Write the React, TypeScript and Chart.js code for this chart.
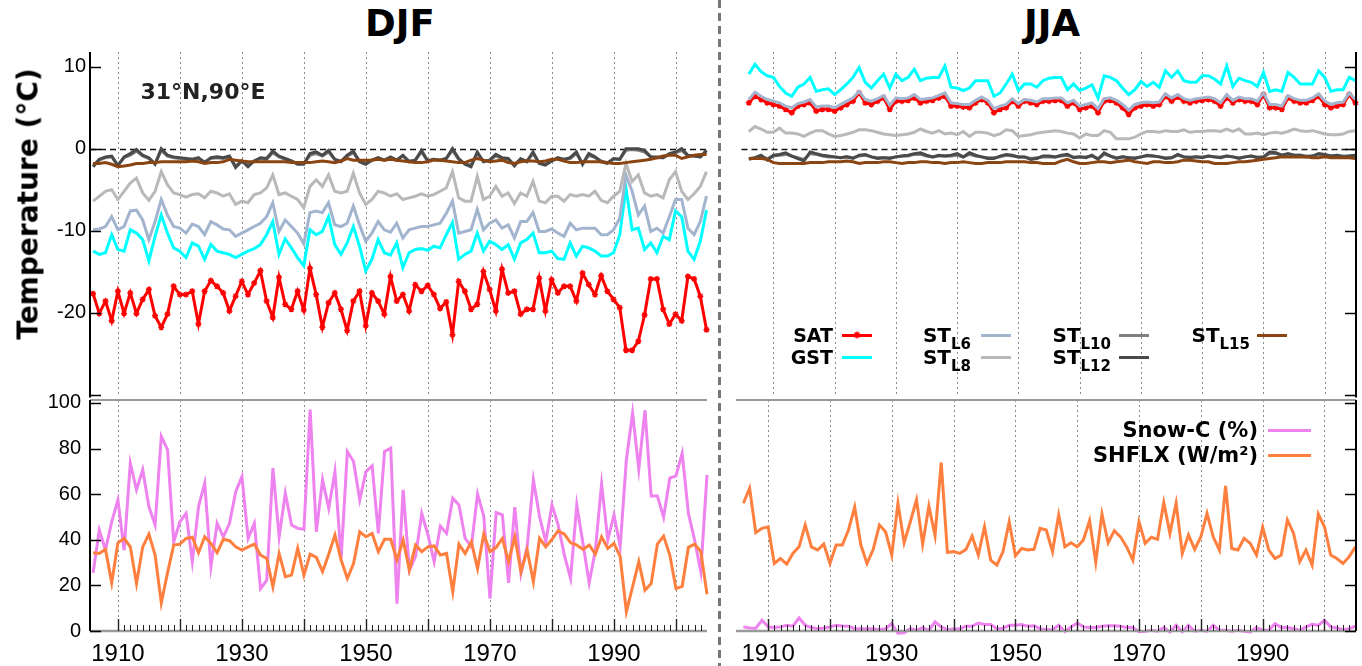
import React, { useEffect, useRef } from 'react';
import { Chart, registerables } from 'chart.js';

Chart.register(...registerables);

// ---------------- data ----------------
const firstYear = 1906;
const years: number[] = Array.from({ length: 100 }, (_, i) => firstYear + i);
const decadeTicks = [1910, 1920, 1930, 1940, 1950, 1960, 1970, 1980, 1990, 2000];
const xTickLabels = [1910, 1930, 1950, 1970, 1990];
const tempTicks = [-30, -20, -10, 0, 10];
const tempTickLabels = [-20, -10, 0, 10];
const pctTicks = [0, 20, 40, 60, 80, 100];
const pctTickLabels = [0, 20, 40, 60, 80, 100];

// DJF (winter)
const djfSAT = [-17.7, -20.1, -18.6, -21.0, -17.4, -20.1, -17.6, -20.1, -18.4, -17.2, -20.4, -21.8, -20.2, -16.8, -17.8, -17.8, -17.4, -21.4, -17.4, -16.1, -16.8, -17.6, -19.8, -18.0, -16.2, -17.8, -16.4, -14.9, -18.6, -20.6, -15.7, -19.0, -19.6, -17.4, -19.7, -14.6, -17.8, -21.8, -18.8, -17.6, -19.6, -22.2, -18.6, -17.4, -21.6, -17.6, -18.6, -20.2, -15.6, -18.6, -17.8, -19.8, -16.6, -17.4, -16.7, -17.8, -19.5, -18.7, -22.7, -16.2, -17.4, -19.6, -19.0, -15.0, -17.2, -19.8, -14.7, -17.6, -17.4, -20.2, -19.6, -19.6, -15.8, -19.8, -16.0, -17.6, -16.8, -16.8, -18.6, -15.2, -16.6, -17.8, -15.5, -17.4, -18.4, -19.4, -24.6, -24.6, -23.5, -20.3, -15.9, -15.9, -19.6, -21.4, -20.2, -21.0, -15.6, -15.9, -18.0, -22.1];
const djfGST = [-12.5, -12.9, -12.7, -10.5, -12.3, -12.5, -9.9, -10.3, -11.1, -13.7, -10.7, -8.1, -10.3, -12.1, -12.5, -13.3, -11.5, -11.9, -13.5, -11.7, -12.5, -12.7, -12.9, -13.3, -12.9, -12.5, -12.2, -11.7, -10.5, -8.9, -12.9, -11.0, -12.1, -13.3, -14.3, -9.9, -10.5, -10.1, -8.3, -11.7, -12.9, -11.5, -9.5, -11.9, -14.9, -13.5, -11.1, -12.7, -13.0, -11.5, -14.5, -12.7, -12.3, -12.2, -12.4, -11.9, -12.1, -10.5, -9.0, -13.5, -12.9, -12.5, -10.3, -12.5, -11.3, -11.7, -12.3, -11.7, -13.5, -11.5, -11.1, -10.3, -12.7, -12.7, -12.5, -13.4, -13.5, -11.5, -13.1, -11.9, -12.1, -12.5, -13.1, -13.1, -12.7, -10.5, -4.8, -9.9, -9.7, -12.3, -11.5, -12.7, -10.7, -11.1, -7.6, -8.3, -12.5, -13.5, -11.3, -7.5];
const djfL6 = [-9.9, -9.8, -9.5, -8.3, -9.9, -9.5, -7.6, -7.5, -8.7, -11.1, -8.9, -6.2, -8.1, -9.5, -9.7, -10.3, -9.2, -9.5, -10.5, -8.9, -9.3, -9.8, -9.9, -10.7, -10.3, -9.9, -9.5, -9.1, -8.3, -6.6, -10.1, -8.7, -9.5, -10.3, -11.6, -7.8, -7.6, -7.8, -6.6, -9.3, -9.5, -9.1, -7.0, -9.3, -11.3, -10.3, -8.9, -9.9, -10.2, -9.1, -10.9, -9.9, -9.7, -9.5, -9.5, -9.3, -9.1, -7.9, -6.4, -10.3, -10.1, -9.9, -7.4, -9.9, -9.1, -8.7, -9.7, -9.3, -10.9, -8.9, -8.9, -7.8, -10.1, -10.1, -9.8, -10.3, -10.7, -9.1, -9.9, -9.7, -9.7, -9.7, -10.5, -10.5, -9.9, -8.5, -3.2, -5.2, -8.1, -7.0, -10.1, -9.7, -10.3, -8.3, -6.2, -6.2, -9.7, -10.5, -8.9, -5.8];
const djfL8 = [-6.4, -5.8, -5.2, -5.0, -6.2, -5.2, -4.2, -3.6, -5.4, -6.3, -5.2, -2.8, -4.4, -5.4, -5.6, -5.9, -5.6, -5.5, -6.0, -5.2, -5.4, -5.8, -5.5, -6.8, -6.4, -6.6, -5.6, -5.4, -4.8, -3.2, -5.6, -5.4, -5.8, -6.2, -7.2, -4.6, -3.8, -4.6, -3.2, -5.2, -5.4, -5.2, -3.0, -5.4, -6.8, -6.2, -5.2, -5.4, -5.8, -5.5, -6.2, -6.0, -5.8, -5.5, -5.8, -5.6, -5.2, -4.8, -2.8, -6.0, -6.4, -6.4, -3.4, -6.2, -5.8, -4.6, -5.8, -5.4, -6.7, -5.4, -5.8, -4.0, -6.4, -6.6, -5.8, -5.8, -6.4, -5.6, -5.8, -5.6, -5.8, -5.2, -6.3, -6.6, -5.8, -5.2, -1.8, -4.0, -3.2, -5.4, -5.8, -5.6, -6.0, -3.8, -2.8, -5.2, -6.2, -5.5, -4.6, -2.8];
const djfL10 = [-2.0, -1.4, -1.1, -1.0, -2.0, -1.1, -0.8, -0.3, -0.9, -1.2, -1.8, -0.2, -0.9, -1.1, -1.2, -1.3, -1.3, -1.2, -1.6, -1.2, -1.1, -1.2, -1.0, -2.1, -1.5, -2.0, -1.5, -1.2, -1.3, -0.5, -1.0, -1.3, -1.5, -1.8, -1.8, -0.8, -0.6, -0.9, -0.4, -1.3, -1.5, -0.9, -0.5, -1.5, -1.8, -1.4, -1.2, -1.4, -1.1, -1.4, -0.9, -1.5, -1.4, -0.4, -1.5, -1.3, -1.4, -1.2, -0.2, -1.3, -1.8, -2.0, -0.6, -1.5, -1.4, -0.9, -1.2, -1.3, -1.9, -1.3, -1.5, -0.6, -1.7, -1.9, -1.5, -1.2, -1.3, -1.2, -0.6, -1.8, -0.8, -1.1, -1.5, -1.7, -1.3, -1.3, -0.2, -0.1, -0.2, -0.4, -1.0, -1.1, -1.1, -0.7, -0.5, -0.2, -0.9, -0.9, -1.0, -0.4];
const djfL12 = [-2.2, -1.3, -1.0, -0.9, -2.1, -1.0, -0.6, -0.1, -0.8, -1.1, -1.9, 0.0, -0.8, -1.0, -1.1, -1.2, -1.3, -1.1, -1.7, -1.1, -1.0, -1.1, -0.9, -2.3, -1.5, -2.2, -1.5, -1.1, -1.2, -0.3, -0.9, -1.2, -1.5, -1.9, -1.9, -0.6, -0.4, -0.8, -0.2, -1.3, -1.6, -0.8, -0.3, -1.6, -1.9, -1.4, -1.1, -1.4, -1.0, -1.4, -0.8, -1.6, -1.4, -0.2, -1.5, -1.3, -1.4, -1.2, 0.0, -1.2, -1.9, -2.2, -0.4, -1.6, -1.4, -0.7, -1.1, -1.2, -2.1, -1.2, -1.6, -0.4, -1.8, -2.0, -1.5, -1.1, -1.3, -1.1, -0.4, -1.9, -0.6, -1.0, -1.6, -1.8, -1.2, -1.3, 0.0, 0.0, 0.0, -0.2, -1.0, -1.0, -1.1, -0.6, -0.4, 0.0, -0.8, -0.9, -1.0, -0.2];
const djfL15 = [-1.8, -1.8, -1.7, -1.9, -2.2, -2.1, -2.0, -1.8, -1.8, -1.7, -1.7, -1.6, -1.6, -1.6, -1.6, -1.6, -1.5, -1.6, -1.8, -1.7, -1.7, -1.6, -1.3, -1.4, -1.5, -1.6, -1.6, -1.6, -1.6, -1.6, -1.6, -1.6, -1.7, -1.7, -1.7, -1.7, -1.6, -1.5, -1.6, -1.7, -1.5, -1.2, -1.4, -1.4, -1.4, -1.4, -1.3, -1.4, -1.3, -1.4, -1.5, -1.6, -1.7, -1.7, -1.6, -1.4, -1.4, -1.5, -1.6, -1.7, -1.7, -1.4, -1.2, -1.4, -1.6, -1.5, -1.4, -1.7, -1.8, -1.6, -1.5, -1.5, -1.6, -1.5, -1.3, -1.3, -1.5, -1.7, -1.7, -1.6, -1.6, -1.6, -1.6, -1.7, -1.8, -1.8, -1.7, -1.6, -1.5, -1.4, -1.3, -1.1, -0.9, -0.8, -0.8, -1.2, -1.0, -0.8, -0.7, -0.7];
const djfSnow = [25.5, 44.3, 35.5, 47.9, 57.5, 35.5, 73.6, 61.9, 70.7, 54.5, 46.5, 85.3, 79.5, 39.1, 47.9, 51.6, 30.4, 54.5, 64.8, 28.2, 47.2, 41.3, 47.2, 61.1, 67.7, 40.6, 47.2, 18.6, 22.3, 71.4, 41.3, 60.4, 46.5, 45.0, 44.6, 97.1, 43.5, 66.3, 53.8, 69.9, 31.8, 78.7, 74.3, 57.5, 69.9, 72.4, 42.8, 78.7, 80.2, 12.0, 61.9, 26.7, 32.6, 51.6, 42.1, 30.4, 46.0, 42.8, 58.2, 55.3, 40.6, 37.0, 60.1, 50.4, 14.2, 51.9, 50.9, 21.1, 54.3, 25.2, 37.0, 66.3, 50.1, 39.1, 55.3, 46.5, 33.3, 23.0, 55.3, 38.4, 21.1, 35.5, 64.5, 39.9, 50.9, 37.0, 75.1, 95.6, 71.0, 96.8, 59.2, 59.2, 49.9, 67.0, 68.0, 78.0, 51.6, 39.9, 26.0, 68.5];
const djfSHFLX = [34.3, 34.0, 35.8, 21.1, 38.7, 40.6, 36.9, 20.8, 36.9, 42.5, 33.3, 12.3, 25.5, 37.7, 38.1, 40.6, 41.1, 34.3, 41.3, 38.4, 34.3, 40.2, 39.6, 36.9, 35.5, 36.9, 38.1, 33.3, 31.8, 19.4, 34.0, 23.8, 24.5, 36.2, 24.5, 33.7, 32.3, 26.0, 33.7, 42.1, 31.1, 23.0, 29.6, 43.5, 41.3, 42.8, 34.8, 40.2, 40.2, 31.1, 39.9, 26.7, 37.7, 34.8, 36.9, 37.3, 33.3, 34.0, 17.2, 38.1, 34.0, 39.1, 27.4, 42.5, 34.8, 36.7, 40.6, 30.4, 41.3, 26.0, 35.5, 21.6, 40.6, 36.9, 40.2, 44.0, 42.5, 38.7, 37.7, 35.8, 37.7, 33.7, 41.3, 36.2, 38.4, 32.6, 8.4, 19.4, 30.4, 17.9, 20.8, 38.1, 41.6, 33.3, 18.6, 19.6, 36.7, 38.1, 34.8, 16.1];

// JJA (summer)
const jjaSAT = [5.6, 6.4, 6.0, 5.6, 5.4, 5.2, 4.8, 4.4, 5.2, 5.4, 5.6, 4.6, 4.8, 4.8, 4.6, 5.0, 5.4, 5.8, 6.8, 5.6, 5.4, 5.8, 6.2, 4.8, 5.8, 5.8, 5.9, 6.2, 5.6, 5.8, 5.9, 6.2, 6.4, 5.2, 5.2, 5.1, 5.0, 5.6, 6.0, 5.6, 4.4, 4.8, 5.0, 5.8, 5.2, 5.8, 5.6, 5.4, 5.8, 5.8, 5.9, 5.9, 5.2, 5.6, 4.8, 5.0, 5.2, 4.4, 5.8, 5.9, 5.6, 5.0, 4.2, 5.0, 5.2, 5.4, 5.2, 5.4, 6.4, 5.8, 6.3, 5.8, 5.6, 5.8, 5.9, 6.0, 5.8, 5.2, 6.2, 5.6, 6.0, 5.8, 5.8, 5.4, 6.6, 5.0, 5.0, 4.8, 6.2, 5.8, 5.6, 5.6, 5.9, 6.4, 5.4, 5.0, 5.2, 5.4, 6.6, 5.6];
const jjaGST = [9.1, 10.3, 9.4, 8.9, 8.7, 7.6, 6.8, 6.4, 7.5, 7.9, 8.7, 7.0, 7.2, 7.3, 6.6, 7.2, 7.9, 8.7, 9.9, 8.1, 7.4, 8.3, 9.1, 7.4, 9.1, 8.3, 8.7, 9.7, 8.3, 8.6, 8.7, 8.7, 10.1, 7.5, 7.4, 7.1, 7.4, 8.3, 8.3, 8.3, 6.4, 6.8, 7.9, 9.1, 7.1, 7.9, 7.9, 7.5, 8.3, 8.6, 8.7, 8.7, 7.2, 7.9, 7.1, 7.4, 7.8, 6.2, 8.9, 8.7, 8.3, 7.4, 6.6, 7.2, 8.2, 7.6, 8.1, 7.5, 9.5, 8.7, 9.5, 8.3, 8.1, 8.1, 8.9, 8.9, 8.5, 7.9, 10.1, 7.6, 8.6, 8.3, 8.1, 7.6, 9.3, 7.0, 7.2, 7.0, 9.3, 8.7, 7.9, 7.9, 7.9, 9.5, 8.7, 7.0, 7.2, 7.2, 8.7, 8.3];
const jjaL6 = [6.0, 6.9, 6.4, 6.0, 5.8, 5.6, 5.2, 5.0, 5.5, 5.7, 6.0, 5.1, 5.2, 5.2, 5.0, 5.4, 5.8, 6.2, 7.0, 6.0, 5.8, 6.1, 6.5, 5.3, 6.2, 6.1, 6.2, 6.6, 6.0, 6.1, 6.2, 6.5, 6.8, 5.6, 5.5, 5.4, 5.4, 5.9, 6.3, 5.9, 4.9, 5.2, 5.4, 6.1, 5.5, 6.0, 5.9, 5.7, 6.1, 6.1, 6.2, 6.2, 5.6, 5.9, 5.2, 5.4, 5.6, 4.9, 6.1, 6.2, 5.9, 5.4, 4.7, 5.4, 5.6, 5.7, 5.6, 5.7, 6.7, 6.2, 6.6, 6.1, 5.9, 6.1, 6.2, 6.3, 6.1, 5.6, 6.6, 5.9, 6.3, 6.1, 6.1, 5.8, 6.8, 5.4, 5.4, 5.2, 6.5, 6.1, 5.9, 5.9, 6.2, 6.7, 5.8, 5.4, 5.6, 5.7, 6.8, 6.0];
const jjaL8 = [2.1, 2.7, 2.4, 2.0, 2.0, 2.5, 1.9, 1.9, 1.8, 1.5, 1.9, 2.2, 2.2, 1.8, 1.5, 1.6, 1.8, 2.0, 2.3, 2.3, 2.2, 2.0, 1.8, 1.7, 1.6, 1.7, 1.8, 2.0, 2.4, 2.1, 1.9, 2.2, 1.8, 1.9, 1.7, 2.1, 1.5, 2.0, 2.0, 1.9, 1.6, 1.8, 2.3, 2.2, 1.5, 1.6, 1.7, 1.9, 2.0, 2.1, 2.2, 2.1, 1.9, 1.8, 1.3, 1.8, 1.6, 1.6, 2.2, 2.0, 1.2, 1.2, 1.2, 1.4, 1.8, 2.1, 2.1, 2.0, 2.2, 2.1, 2.1, 2.3, 2.0, 2.1, 2.1, 2.2, 2.2, 2.1, 2.4, 2.1, 2.4, 1.8, 1.8, 1.9, 1.7, 1.9, 2.0, 1.9, 2.1, 2.4, 2.2, 2.1, 2.2, 2.0, 1.8, 1.7, 1.7, 1.8, 2.1, 2.2];
const jjaL10 = [-1.2, -1.1, -0.9, -1.2, -0.9, -0.8, -0.7, -0.9, -1.1, -1.3, -0.6, -0.7, -0.9, -1.0, -1.0, -1.1, -1.0, -1.1, -0.9, -0.8, -1.0, -1.1, -1.1, -1.1, -1.0, -0.9, -0.9, -0.7, -0.7, -0.9, -1.0, -0.9, -0.9, -0.9, -0.8, -1.0, -0.7, -0.9, -1.0, -1.1, -1.1, -1.0, -0.8, -0.9, -1.0, -1.0, -1.2, -1.1, -1.0, -1.0, -1.0, -0.9, -0.8, -1.0, -1.0, -1.0, -0.9, -1.2, -0.7, -0.9, -1.1, -1.0, -1.1, -1.1, -1.0, -0.9, -0.9, -1.0, -1.1, -1.1, -0.8, -1.0, -1.0, -1.0, -1.0, -0.9, -1.0, -1.0, -0.9, -1.0, -1.1, -1.0, -0.9, -1.0, -1.0, -0.6, -0.6, -0.8, -0.7, -0.8, -0.8, -0.9, -0.9, -0.7, -0.8, -0.9, -0.8, -0.9, -0.9, -0.8];
const jjaL12 = [-1.3, -1.1, -0.8, -1.4, -0.8, -0.7, -0.5, -0.9, -1.2, -1.5, -0.4, -0.6, -0.8, -0.9, -1.0, -1.1, -1.0, -1.2, -0.8, -0.7, -1.0, -1.2, -1.1, -1.2, -1.0, -0.9, -0.8, -0.6, -0.5, -0.8, -1.0, -0.8, -0.9, -0.8, -0.6, -1.0, -0.5, -0.8, -1.0, -1.2, -1.2, -0.9, -0.7, -0.8, -1.0, -1.0, -1.3, -1.2, -0.9, -0.9, -1.0, -0.8, -0.7, -1.1, -1.0, -1.1, -0.8, -1.3, -0.5, -0.9, -1.2, -1.0, -1.1, -1.2, -1.0, -0.8, -0.9, -1.0, -1.2, -1.1, -0.7, -1.0, -1.1, -1.0, -1.1, -0.9, -1.0, -1.1, -0.9, -1.0, -1.2, -1.0, -0.9, -1.1, -1.0, -0.4, -0.5, -0.8, -0.6, -0.8, -0.8, -1.0, -0.9, -0.6, -0.7, -0.9, -0.8, -1.0, -0.9, -0.8];
const jjaL15 = [-1.2, -1.2, -1.2, -1.3, -1.7, -1.8, -1.8, -1.8, -1.8, -1.8, -1.7, -1.7, -1.7, -1.6, -1.6, -1.6, -1.5, -1.6, -1.8, -1.7, -1.7, -1.7, -1.6, -1.6, -1.7, -1.8, -1.7, -1.7, -1.6, -1.6, -1.7, -1.7, -1.8, -1.7, -1.7, -1.6, -1.7, -1.8, -1.8, -1.7, -1.7, -1.7, -1.6, -1.6, -1.6, -1.6, -1.7, -1.7, -1.8, -1.8, -1.8, -1.5, -1.3, -1.6, -1.8, -1.8, -1.7, -1.6, -1.6, -1.7, -1.6, -1.5, -1.4, -1.6, -1.7, -1.8, -1.6, -1.6, -1.7, -1.7, -1.6, -1.4, -1.4, -1.5, -1.6, -1.6, -1.8, -1.8, -1.8, -1.7, -1.6, -1.6, -1.5, -1.4, -1.3, -1.2, -1.1, -1.0, -1.0, -1.0, -1.0, -1.0, -1.1, -1.1, -1.0, -1.1, -1.1, -1.1, -1.1, -1.2];
const jjaSnow = [1.8, 1.3, 1.2, 4.7, 1.8, 1.5, 1.8, 2.5, 2.1, 5.7, 2.5, 1.5, 1.0, 1.3, 1.8, 2.5, 2.2, 2.1, 1.0, 1.0, 1.0, 1.0, 0.6, 1.0, 3.2, -1.0, -0.8, 1.0, 0.3, 1.5, 0.3, 4.0, 1.8, 0.6, 0.9, 1.0, 2.1, 2.1, 3.5, 2.9, 2.9, 1.0, 1.2, 2.5, 2.5, 2.8, 2.1, 2.3, 1.0, 0.6, 0.6, 2.5, -0.2, 1.8, 3.5, 1.8, 1.5, 1.5, 2.1, 2.3, 2.3, 2.1, 1.5, 1.5, -0.3, -0.1, 0.3, -0.1, 1.5, -0.4, 2.5, -0.3, 2.5, -0.1, 0.3, -0.1, 2.5, 0.3, 0.3, -0.1, 0.3, -0.1, -0.4, 1.5, 0.3, 0.3, 3.2, 1.5, 1.5, 1.0, 0.3, 1.8, 2.9, 2.5, 4.7, 1.8, 1.3, 0.6, 1.0, 2.1];
const jjaSHFLX = [56.0, 62.6, 43.1, 45.0, 45.7, 29.6, 31.8, 29.3, 34.0, 36.9, 46.5, 36.9, 35.5, 38.1, 29.6, 37.7, 37.7, 44.3, 54.3, 37.7, 29.6, 35.8, 46.5, 43.5, 33.3, 56.0, 38.7, 47.9, 57.5, 38.1, 54.8, 41.8, 73.9, 34.5, 34.8, 34.0, 35.8, 41.6, 33.3, 45.7, 31.1, 28.9, 34.8, 47.9, 33.0, 36.2, 35.5, 35.8, 45.0, 44.3, 34.8, 50.9, 36.9, 38.7, 36.9, 39.9, 48.4, 30.1, 51.3, 38.7, 44.0, 41.3, 36.9, 31.1, 47.9, 38.4, 41.1, 40.2, 56.3, 42.8, 56.0, 34.0, 42.1, 35.8, 41.3, 51.6, 41.3, 35.5, 63.6, 36.2, 35.5, 40.6, 38.4, 33.3, 45.5, 35.5, 31.8, 33.3, 48.7, 42.8, 30.4, 35.5, 28.9, 51.3, 45.7, 33.3, 31.8, 29.6, 32.6, 36.9];

// ---------------- styles ----------------
const C = {
  SAT: '#ff0000', GST: '#00ffff', L6: '#a2b4ce', L8: '#b9b9b9', L10: '#808080', L12: '#4a4a4a', L15: '#8b4513',
  snow: '#ee82ee', shflx: '#ff7f3f',
};
const tickFont = '"Liberation Sans", Arial, Helvetica, sans-serif';
const boldFont = '"DejaVu Sans", Verdana, sans-serif';

type Box = { x: number; y: number; w: number; h: number };

function series(vals: number[], color: string, extra: any = {}) {
  return {
    data: years.map((x, i) => ({ x, y: vals[i] })),
    borderColor: color,
    backgroundColor: color,
    borderWidth: 3,
    pointRadius: 0,
    tension: 0,
    clip: 8,
    ...extra,
  };
}

function satSeries(vals: number[]) {
  return series(vals, C.SAT, {
    pointRadius: 3,
    pointStyle: 'star',
    pointBorderColor: C.SAT,
    pointBackgroundColor: C.SAT,
    pointBorderWidth: 1.5,
  });
}

function makeDecor(cfg: { side: 'left' | 'right'; yTicks: number[]; zero?: boolean; xAxis?: boolean; topLine?: boolean; extend?: number }) {
  return {
    id: 'decor',
    beforeDatasetsDraw(chart: any) {
      const { ctx, chartArea: a } = chart;
      const xs = chart.scales.x;
      const ys = chart.scales.y;
      ctx.save();
      ctx.strokeStyle = '#8c8c8c';
      ctx.lineWidth = 1;
      ctx.setLineDash([2, 3]);
      decadeTicks.forEach((d) => {
        const px = Math.round(xs.getPixelForValue(d)) + 0.5;
        ctx.beginPath();
        ctx.moveTo(px, a.top);
        ctx.lineTo(px, a.bottom);
        ctx.stroke();
      });
      if (cfg.zero) {
        const py = Math.round(ys.getPixelForValue(0)) + 0.5;
        ctx.strokeStyle = '#111';
        ctx.lineWidth = 1.3;
        ctx.setLineDash([6, 4]);
        ctx.beginPath();
        ctx.moveTo(a.left, py);
        ctx.lineTo(a.right, py);
        ctx.stroke();
      }
      ctx.restore();
    },
    afterDraw(chart: any) {
      const { ctx, chartArea: a } = chart;
      const xs = chart.scales.x;
      const ys = chart.scales.y;
      ctx.save();
      ctx.setLineDash([]);
      if (cfg.topLine) {
        ctx.strokeStyle = '#9a9a9a';
        ctx.lineWidth = 2;
        ctx.beginPath();
        ctx.moveTo(a.left, a.top);
        ctx.lineTo(a.right, a.top);
        ctx.stroke();
      }
      if (cfg.xAxis) {
        ctx.strokeStyle = '#9a9a9a';
        ctx.lineWidth = 2.5;
        ctx.beginPath();
        ctx.moveTo(a.left, a.bottom);
        ctx.lineTo(a.right, a.bottom);
        ctx.stroke();
        ctx.strokeStyle = '#222';
        const maxV = xs.max;
        for (let yr = decadeTicks[0]; yr < maxV - 0.3; yr++) {
          const major = yr % 10 === 0;
          const px = Math.round(xs.getPixelForValue(yr)) + 0.5;
          ctx.lineWidth = major ? 1.4 : 1;
          ctx.beginPath();
          ctx.moveTo(px, a.bottom);
          ctx.lineTo(px, a.bottom - (major ? 12 : 6));
          ctx.stroke();
        }
      }
      const ax = cfg.side === 'left' ? a.left : a.right;
      const dir = cfg.side === 'left' ? 1 : -1;
      ctx.strokeStyle = '#000';
      ctx.lineWidth = 2;
      ctx.beginPath();
      ctx.moveTo(ax, a.top);
      ctx.lineTo(ax, a.bottom + (cfg.extend || 0));
      ctx.stroke();
      ctx.lineWidth = 1.5;
      cfg.yTicks.forEach((v) => {
        const py = Math.round(ys.getPixelForValue(v)) + 0.5;
        ctx.beginPath();
        ctx.moveTo(ax, py);
        ctx.lineTo(ax + dir * 11, py);
        ctx.stroke();
      });
      ctx.restore();
    },
  };
}

type PanelProps = {
  box: Box;
  padding: any;
  xMin: number;
  xMax: number;
  yMin: number;
  yMax: number;
  yStep: number;
  yLabels: number[];
  showX: boolean;
  showY: boolean;
  yPad: number;
  datasets: any[];
  decor: any;
};

function Panel(p: PanelProps) {
  const ref = useRef<HTMLCanvasElement>(null);
  useEffect(() => {
    const chart = new Chart(ref.current as HTMLCanvasElement, {
      type: 'line',
      data: { datasets: p.datasets },
      options: {
        responsive: false,
        animation: false,
        devicePixelRatio: 1,
        layout: { padding: p.padding },
        plugins: { legend: { display: false }, tooltip: { enabled: false } },
        scales: {
          x: {
            type: 'linear',
            min: p.xMin,
            max: p.xMax,
            display: p.showX,
            grid: { display: false, drawTicks: false },
            border: { display: false },
            afterFit: (s: any) => {
              if (p.showX) s.height = 35;
              s.paddingLeft = 0;
              s.paddingRight = 0;
            },
            ticks: {
              stepSize: 10,
              includeBounds: false,
              autoSkip: false,
              maxRotation: 0,
              padding: 9,
              color: '#000',
              font: { family: tickFont, size: 24 },
              callback: (v: any) => (xTickLabels.includes(v) ? String(v) : ''),
            },
          },
          y: {
            type: 'linear',
            min: p.yMin,
            max: p.yMax,
            display: p.showY,
            grid: { display: false, drawTicks: false },
            border: { display: false },
            afterFit: (s: any) => {
              if (p.showY) s.width = 90;
              s.paddingTop = 0;
              s.paddingBottom = 0;
            },
            ticks: {
              stepSize: p.yStep,
              includeBounds: false,
              autoSkip: false,
              padding: p.yPad,
              color: '#000',
              font: { family: tickFont, size: 20 },
              callback: (v: any) => (p.yLabels.includes(v) ? String(v) : ''),
            },
          },
        },
      } as any,
      plugins: [p.decor],
    });
    return () => chart.destroy();
  }, []);
  return (
    <canvas
      ref={ref}
      width={p.box.w}
      height={p.box.h}
      style={{ position: 'absolute', left: p.box.x, top: p.box.y, width: p.box.w, height: p.box.h }}
    />
  );
}

function LegendRow(props: { right: number; y: number; lineLeft: number; lineRight: number; color: string; size: number; star?: boolean; children: any }) {
  const { right, y, lineLeft, lineRight, color, size, star, children } = props;
  const mid = (lineLeft + lineRight) / 2;
  return (
    <>
      <div
        style={{
          position: 'absolute',
          right: 1362 - right,
          top: y - 13,
          height: 26,
          lineHeight: '26px',
          fontFamily: boldFont,
          fontWeight: 'bold',
          fontSize: size,
          color: '#000',
          whiteSpace: 'nowrap',
        }}
      >
        {children}
      </div>
      <div style={{ position: 'absolute', left: lineLeft, top: y - 1.5, width: lineRight - lineLeft, height: 3, background: color }} />
      {star && (
        <svg style={{ position: 'absolute', left: mid - 4, top: y - 4 }} width={8} height={8}>
          <path d="M4 0.5 V7.5 M0.5 4 H7.5 M1.5 1.5 L6.5 6.5 M6.5 1.5 L1.5 6.5" stroke={color} strokeWidth={1.5} />
        </svg>
      )}
    </>
  );
}

const Sub = (props: { children: any }) => (
  <span style={{ fontSize: 15, position: 'relative', top: 7 }}>{props.children}</span>
);

export default function App() {
  const djfTop = [
    series(djfL15, C.L15),
    series(djfL12, C.L12),
    series(djfL10, C.L10),
    series(djfL8, C.L8),
    series(djfL6, C.L6),
    series(djfGST, C.GST),
    satSeries(djfSAT),
  ];
  const jjaTop = [
    series(jjaL15, C.L15),
    series(jjaL12, C.L12),
    series(jjaL10, C.L10),
    series(jjaL8, C.L8),
    series(jjaL6, C.L6),
    series(jjaGST, C.GST),
    satSeries(jjaSAT),
  ];
  const djfBottom = [series(djfSHFLX, C.shflx), series(djfSnow, C.snow)];
  const jjaBottom = [series(jjaSHFLX, C.shflx), series(jjaSnow, C.snow)];

  const titleStyle: any = { position: 'absolute', top: 23, transform: 'translate(-50%, -50%)', fontFamily: boldFont, fontWeight: 'bold', fontSize: 37, whiteSpace: 'nowrap' };

  return (
    <div style={{ position: 'absolute', left: 0, top: 0, width: 1362, height: 666, background: '#fff', overflow: 'hidden' }}>
      <div style={{ ...titleStyle, left: 400 }}>DJF</div>
      <div style={{ ...titleStyle, left: 1052 }}>JJA</div>

      <Panel
        box={{ x: 0, y: 40, w: 712, h: 360 }}
        padding={{ top: 12, bottom: 3, right: 5, left: 0 }}
        xMin={1905.5}
        xMax={2005}
        yMin={-30}
        yMax={11.8}
        yStep={10}
        yLabels={tempTickLabels}
        showX={false}
        showY={true}
        yPad={4}
        datasets={djfTop}
        decor={makeDecor({ side: 'left', yTicks: tempTicks, zero: true, extend: 3 })}
      />
      <Panel
        box={{ x: 0, y: 390, w: 712, h: 276 }}
        padding={{ top: 10, bottom: 0, right: 5, left: 0 }}
        xMin={1905.5}
        xMax={2005}
        yMin={0}
        yMax={101.3}
        yStep={20}
        yLabels={pctTickLabels}
        showX={true}
        showY={true}
        yPad={9}
        datasets={djfBottom}
        decor={makeDecor({ side: 'left', yTicks: pctTicks, xAxis: true, topLine: true })}
      />
      <Panel
        box={{ x: 736, y: 40, w: 626, h: 360 }}
        padding={{ top: 12, bottom: 3, right: 6, left: 0 }}
        xMin={1904.8}
        xMax={2005.1}
        yMin={-30}
        yMax={11.8}
        yStep={10}
        yLabels={tempTickLabels}
        showX={false}
        showY={false}
        yPad={4}
        datasets={jjaTop}
        decor={makeDecor({ side: 'right', yTicks: tempTicks, zero: true, extend: 3 })}
      />
      <Panel
        box={{ x: 736, y: 390, w: 626, h: 276 }}
        padding={{ top: 10, bottom: 0, right: 6, left: 0 }}
        xMin={1904.8}
        xMax={2005.1}
        yMin={0}
        yMax={101.3}
        yStep={20}
        yLabels={pctTickLabels}
        showX={true}
        showY={false}
        yPad={9}
        datasets={jjaBottom}
        decor={makeDecor({ side: 'right', yTicks: pctTicks, xAxis: true, topLine: true })}
      />

      {/* separator */}
      <div
        style={{
          position: 'absolute',
          left: 718,
          top: 0,
          width: 3,
          height: 666,
          background: 'repeating-linear-gradient(to bottom, #777 0px, #777 8px, transparent 8px, transparent 13px)',
        }}
      />

      {/* y title */}
      <div
        style={{
          position: 'absolute',
          left: 28,
          top: 204,
          transform: 'translate(-50%, -50%) rotate(-90deg)',
          fontFamily: boldFont,
          fontWeight: 'bold',
          fontSize: 28,
          whiteSpace: 'nowrap',
        }}
      >
        Temperature (°C)
      </div>
      <div
        style={{
          position: 'absolute',
          left: 203,
          top: 91,
          transform: 'translate(-50%, -50%)',
          fontFamily: boldFont,
          fontWeight: 'bold',
          fontSize: 22,
          color: '#222',
          whiteSpace: 'nowrap',
        }}
      >
        31°N,90°E
      </div>

      {/* temperature legend */}
      <LegendRow right={833} y={335} lineLeft={842} lineRight={872} color={C.SAT} size={19} star>SAT</LegendRow>
      <LegendRow right={833} y={357} lineLeft={842} lineRight={872} color={C.GST} size={19}>GST</LegendRow>
      <LegendRow right={971} y={335} lineLeft={981} lineRight={1011} color={C.L6} size={20}>ST<Sub>L6</Sub></LegendRow>
      <LegendRow right={971} y={357} lineLeft={981} lineRight={1011} color={C.L8} size={20}>ST<Sub>L8</Sub></LegendRow>
      <LegendRow right={1111} y={335} lineLeft={1119} lineRight={1149} color={C.L10} size={20}>ST<Sub>L10</Sub></LegendRow>
      <LegendRow right={1111} y={357} lineLeft={1119} lineRight={1149} color={C.L12} size={20}>ST<Sub>L12</Sub></LegendRow>
      <LegendRow right={1250} y={335} lineLeft={1257} lineRight={1287} color={C.L15} size={20}>ST<Sub>L15</Sub></LegendRow>

      {/* bottom legend */}
      <LegendRow right={1258} y={430} lineLeft={1268} lineRight={1311} color={C.snow} size={21}>Snow-C (%)</LegendRow>
      <LegendRow right={1258} y={455} lineLeft={1268} lineRight={1311} color={C.shflx} size={21}>SHFLX (W/m²)</LegendRow>
    </div>
  );
}
